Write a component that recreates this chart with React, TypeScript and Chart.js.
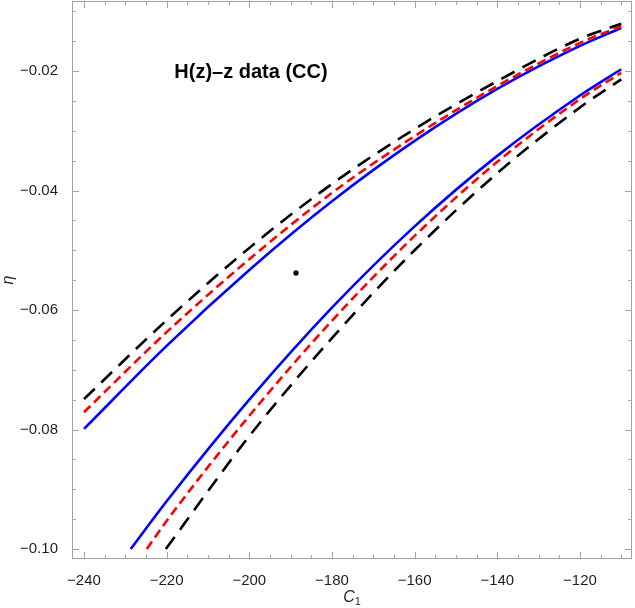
import React, { useEffect, useRef } from "react";
import { Chart, registerables } from "chart.js";

Chart.register(...registerables);

// ---- axis setup ----
const X_TICKS = [-240, -220, -200, -180, -160, -140, -120];
const Y_TICKS = [-0.1, -0.08, -0.06, -0.04, -0.02];
const X_MIN = -242.9;
const X_MAX = -107.4;
const Y_MIN = -0.10167;
const Y_MAX = -0.00828;
const X_MINOR = 5;
const Y_MINOR = 0.005;

// ---- upper branch (C1 values shared) ----
const C1_UPPER = [-240, -220, -200, -180, -160, -140, -120, -110];
const BLUE_UPPER = [-0.0799, -0.066, -0.0533, -0.0418, -0.0317, -0.023, -0.0158, -0.0128];
const RED_UPPER = [-0.0771, -0.0637, -0.0515, -0.0404, -0.0309, -0.0225, -0.0153, -0.0125];
const BLACK_UPPER = [-0.0749, -0.0617, -0.0496, -0.0389, -0.0297, -0.0217, -0.0146, -0.0121];

// ---- lower branch ----
const C1_BLUE_LOWER = [-228.7, -220, -200, -180, -160, -140, -120, -110];
const BLUE_LOWER = [-0.1, -0.092, -0.075, -0.0596, -0.046, -0.0342, -0.0241, -0.0197];
const C1_RED_LOWER = [-224.8, -220, -200, -180, -160, -140, -120, -110];
const RED_LOWER = [-0.1, -0.0953, -0.0777, -0.0618, -0.0476, -0.0352, -0.0247, -0.0203];
const C1_BLACK_LOWER = [-220.2, -200, -180, -160, -140, -120, -110];
const BLACK_LOWER = [-0.1, -0.0811, -0.0647, -0.05, -0.0371, -0.0261, -0.0214];

// ---- best-fit point ----
const POINT_C1 = [-188.7];
const POINT_ETA = [-0.0538];

// ---- annotation ----
const TITLE_TEXT = "H(z)\u2013z data (CC)";
const TITLE_C1 = -199.6;
const TITLE_ETA = -0.0211;

const FONT = '"Liberation Sans", Arial, sans-serif';
const FRAME_COLOR = "#a3a3a3";
const LABEL_COLOR = "#1f1f1f";

const pts = (xs: number[], ys: number[]) => xs.map((x, i) => ({ x, y: ys[i] }));
const minus = (s: string) => s.replace("-", "\u2212");

const framePlugin = {
  id: "mmaFrame",
  afterDraw(chart: any) {
    const { ctx, chartArea: a, scales } = chart;
    const xs = scales.x;
    const ys = scales.y;
    ctx.save();
    ctx.strokeStyle = FRAME_COLOR;
    ctx.lineWidth = 1;
    ctx.strokeRect(a.left + 0.5, a.top + 0.5, a.right - a.left - 1, a.bottom - a.top - 1);
    ctx.beginPath();
    const k0 = Math.ceil(X_MIN / X_MINOR);
    const k1 = Math.floor(X_MAX / X_MINOR);
    for (let k = k0; k <= k1; k++) {
      const v = k * X_MINOR;
      const major = k % 4 === 0;
      const len = major ? 7 : 4;
      const px = Math.round(xs.getPixelForValue(v)) + 0.5;
      ctx.moveTo(px, a.bottom);
      ctx.lineTo(px, a.bottom - len);
      ctx.moveTo(px, a.top);
      ctx.lineTo(px, a.top + len);
    }
    const j0 = Math.ceil(Y_MIN / Y_MINOR - 1e-6);
    const j1 = Math.floor(Y_MAX / Y_MINOR + 1e-6);
    for (let j = j0; j <= j1; j++) {
      const v = j * Y_MINOR;
      const major = j % 4 === 0;
      const len = major ? 7 : 4;
      const py = Math.round(ys.getPixelForValue(v)) + 0.5;
      ctx.moveTo(a.left, py);
      ctx.lineTo(a.left + len, py);
      ctx.moveTo(a.right, py);
      ctx.lineTo(a.right - len, py);
    }
    ctx.stroke();

    // title annotation
    ctx.fillStyle = "#000";
    ctx.font = `bold 20px ${FONT}`;
    ctx.textAlign = "center";
    ctx.textBaseline = "alphabetic";
    ctx.fillText(TITLE_TEXT, xs.getPixelForValue(TITLE_C1), ys.getPixelForValue(TITLE_ETA));

    // x axis label: italic C with subscript 1
    const cx = (a.left + a.right) / 2;
    const cy = 602;
    ctx.fillStyle = LABEL_COLOR;
    ctx.font = `italic 16px ${FONT}`;
    ctx.textAlign = "left";
    const wC = ctx.measureText("C").width;
    ctx.font = `11px ${FONT}`;
    const w1 = ctx.measureText("1").width;
    const start = cx - (wC + w1) / 2;
    ctx.font = `italic 16px ${FONT}`;
    ctx.fillText("C", start, cy);
    ctx.font = `11px ${FONT}`;
    ctx.fillText("1", start + wC, cy + 3);

    // y axis label: rotated eta
    ctx.save();
    ctx.translate(9, (a.top + a.bottom) / 2);
    ctx.rotate(-Math.PI / 2);
    ctx.font = `italic 16px ${FONT}`;
    ctx.textAlign = "center";
    ctx.textBaseline = "middle";
    ctx.fillText("\u03b7", 0, 0);
    ctx.restore();

    ctx.restore();
  },
};

export default function App() {
  const ref = useRef<HTMLCanvasElement | null>(null);
  useEffect(() => {
    if (!ref.current) return;
    const line = (data: any, color: string, dash: number[], width: number) => ({
      data,
      showLine: true,
      borderColor: color,
      backgroundColor: color,
      borderWidth: width,
      borderDash: dash,
      pointRadius: 0,
      cubicInterpolationMode: "monotone",
      fill: false,
    });
    const chart = new Chart(ref.current, {
      type: "scatter",
      data: {
        datasets: [
          {
            data: pts(POINT_C1, POINT_ETA),
            pointRadius: 2.7,
            backgroundColor: "#000",
            borderWidth: 0,
            showLine: false,
          } as any,
          line(pts(C1_UPPER, BLACK_UPPER), "#000000", [15, 9], 2.6),
          line(pts(C1_BLACK_LOWER, BLACK_LOWER), "#000000", [15, 9], 2.6),
          line(pts(C1_UPPER, RED_UPPER), "#ff0000", [9, 5], 2.6),
          line(pts(C1_RED_LOWER, RED_LOWER), "#ff0000", [9, 5], 2.6),
          line(pts(C1_UPPER, BLUE_UPPER), "#0000ff", [], 2.6),
          line(pts(C1_BLUE_LOWER, BLUE_LOWER), "#0000ff", [], 2.6),
        ],
      },
      options: {
        animation: false,
        responsive: false,
        devicePixelRatio: 1,
        layout: { autoPadding: false, padding: { left: 0, right: 3, top: 1, bottom: 0 } },
        plugins: { legend: { display: false }, tooltip: { enabled: false } },
        scales: {
          x: {
            type: "linear",
            min: X_MIN,
            max: X_MAX,
            grid: { display: false },
            border: { display: false },
            afterBuildTicks: (s: any) => {
              s.ticks = X_TICKS.map((v) => ({ value: v }));
            },
            afterFit: (s: any) => {
              s.height = 49;
              s.paddingLeft = 0;
              s.paddingRight = 0;
              s.paddingTop = 0;
              s.paddingBottom = 0;
            },
            ticks: {
              padding: 5,
              color: LABEL_COLOR,
              font: { family: FONT, size: 15 },
              maxRotation: 0,
              autoSkip: false,
              callback: (v: any) => minus(String(v)),
            },
          },
          y: {
            type: "linear",
            min: Y_MIN,
            max: Y_MAX,
            grid: { display: false },
            border: { display: false },
            afterBuildTicks: (s: any) => {
              s.ticks = Y_TICKS.map((v) => ({ value: v }));
            },
            afterFit: (s: any) => {
              s.width = 72;
              s.paddingLeft = 0;
              s.paddingRight = 0;
              s.paddingTop = 0;
              s.paddingBottom = 0;
            },
            ticks: {
              padding: 6,
              color: LABEL_COLOR,
              font: { family: FONT, size: 15 },
              autoSkip: false,
              callback: (v: any) => minus(Number(v).toFixed(2)),
            },
          },
        },
      },
      plugins: [framePlugin],
    } as any);
    return () => chart.destroy();
  }, []);
  return (
    <div style={{ position: "absolute", left: 0, top: 0, width: 635, height: 608, background: "#fff" }}>
      <canvas ref={ref} width={635} height={608} style={{ width: 635, height: 608, display: "block" }} />
    </div>
  );
}
